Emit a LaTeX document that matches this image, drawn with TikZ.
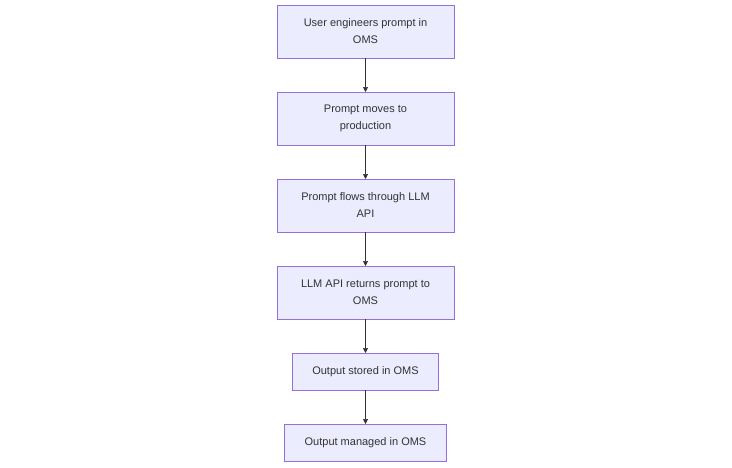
\documentclass[tikz,border=0pt]{standalone}
\usepackage{fontspec}
\setmainfont{Liberation Sans}
\usepackage{tikz}
\usetikzlibrary{positioning}
\usetikzlibrary{arrows.meta}
\definecolor{boxfill}{HTML}{ECECFF}
\definecolor{boxline}{HTML}{9370DB}
\definecolor{textgray}{HTML}{333333}
\tikzset {
  node distance={34pt},
  % flow step box
  stepbox/.style = {draw=boxline, fill=boxfill, line width=0.7pt, align=center,
    text=textgray, font=\fontsize{11pt}{17pt}\selectfont, outer sep=0pt,
    minimum width=177pt, minimum height=53pt},
  % shorter one line box
  shortbox/.style = {stepbox, minimum width=0pt, minimum height=37pt, inner xsep=20pt},
  % connector between steps
  flow/.style={-{Triangle[length=5pt, width=5pt]}, textgray, line width=0.7pt},
}
\begin{document}
\begin{tikzpicture}
  \useasboundingbox (0pt, 0pt) rectangle (732pt, -467pt);

  \node[stepbox] (engineer) at (365.5pt, -31.5pt) {User engineers prompt in\\OMS};
  \node[stepbox, below=of engineer] (production) {Prompt moves to\\production};
  \node[stepbox, below=of production] (api) {Prompt flows through LLM\\API};
  \node[stepbox, below=of api] (returns) {LLM API returns prompt to\\OMS};
  \node[shortbox, below=of returns] (stored) {Output stored in OMS};
  \node[shortbox, below=of stored] (managed) {Output managed in OMS};

  \draw [flow] (engineer) -- (production);
  \draw [flow] (production) -- (api);
  \draw [flow] (api) -- (returns);
  \draw [flow] (returns) -- (stored);
  \draw [flow] (stored) -- (managed);
\end{tikzpicture}
\end{document}
